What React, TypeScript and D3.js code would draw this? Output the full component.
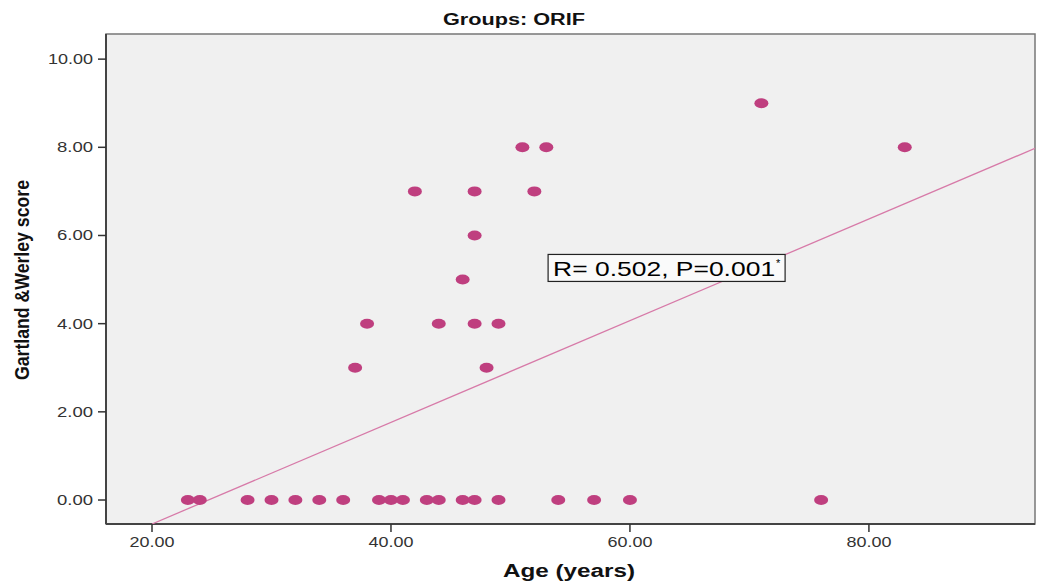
import React from "react";
import * as d3 from "d3";

const ages = [23, 24, 28, 30, 32, 34, 36, 39, 40, 41, 43, 44, 46, 47, 49, 54, 57, 60, 76,
  37, 38, 42, 44, 46, 47, 47, 47, 48, 49, 51, 52, 53, 71, 83];
const scores = [0, 0, 0, 0, 0, 0, 0, 0, 0, 0, 0, 0, 0, 0, 0, 0, 0, 0, 0,
  3, 4, 7, 4, 5, 7, 6, 4, 3, 4, 8, 7, 8, 9, 8];
const xTicks = [20, 40, 60, 80];
const yTicks = [0, 2, 4, 6, 8, 10];
const fitIntercept = -2.85;
const fitSlope = 0.1153;
const title = "Groups: ORIF";
const xLabel = "Age (years)";
const yLabel = "Gartland &Werley score";

export default function App() {
  const W = 1040, H = 586;
  const L = 106, T = 34, R = 1035, B = 524;
  const x = d3.scaleLinear().domain([16.15, 93.9]).range([L, R]);
  const y = d3.scaleLinear().domain([-0.544, 10.57]).range([B, T]);
  const xd = x.domain();
  const line = d3.line<number>().x((d) => x(d)).y((d) => y(fitIntercept + fitSlope * d));
  const x0 = (y.domain()[0] - fitIntercept) / fitSlope;
  const linePts = [Math.max(x0, xd[0]), xd[1]];
  const fmt = (t: number) => t.toFixed(2);
  return (
    <svg width={W} height={H} style={{ position: "absolute", left: 0, top: 0, background: "#fff" }}
      fontFamily="Liberation Sans, Arial, sans-serif">
      <defs>
        <clipPath id="plot"><rect x={L} y={T} width={R - L} height={B - T} /></clipPath>
      </defs>
      <text x={514} y={25} textAnchor="middle" fontSize={16} fontWeight="bold" fill="#111"
        textLength={142} lengthAdjust="spacingAndGlyphs">{title}</text>
      <rect x={L} y={T} width={R - L} height={B - T} fill="#f0f0f0" stroke="#777" strokeWidth={1.5} />
      <line x1={L} y1={T} x2={L} y2={B} stroke="#444" strokeWidth={2} />
      <line x1={L} y1={B} x2={R} y2={B} stroke="#444" strokeWidth={2} />
      {yTicks.map((t) => (
        <g key={"y" + t}>
          <line x1={L - 8} x2={L} y1={y(t)} y2={y(t)} stroke="#333" strokeWidth={1.5} />
          <text x={L - 13} y={y(t) + 5} textAnchor="end" fontSize={14} fill="#333"
            textLength={fmt(t).length * 9} lengthAdjust="spacingAndGlyphs">{fmt(t)}</text>
        </g>
      ))}
      {xTicks.map((t) => (
        <g key={"x" + t}>
          <line x1={x(t)} x2={x(t)} y1={B} y2={B + 8} stroke="#333" strokeWidth={1.5} />
          <text x={x(t)} y={B + 23} textAnchor="middle" fontSize={14} fill="#333"
            textLength={fmt(t).length * 9} lengthAdjust="spacingAndGlyphs">{fmt(t)}</text>
        </g>
      ))}
      <g clipPath="url(#plot)">
        <path d={line(linePts) || ""} stroke="#d77aa8" strokeWidth={1.3} fill="none" />
        {ages.map((a, i) => (
          <ellipse key={i} cx={x(a)} cy={y(scores[i])} rx={7} ry={5} fill="#bf3f7f" />
        ))}
      </g>
      <g transform={`translate(${x(53.15)},${y(5.57)})`}>
        <rect x={0} y={0} width={237} height={27} fill="#fafafa" stroke="#222" strokeWidth={1.2} />
        <text x={5} y={21.5} fontSize={21} fill="#000" textLength={222} lengthAdjust="spacingAndGlyphs">R= 0.502, P=0.001</text>
        <text x={228} y={13} fontSize={11} fill="#000">*</text>
      </g>
      <text x={569} y={577} textAnchor="middle" fontSize={18} fontWeight="bold" fill="#111"
        textLength={132} lengthAdjust="spacingAndGlyphs">{xLabel}</text>
      <text transform={`translate(29,280) rotate(-90)`} textAnchor="middle" fontSize={21} fontWeight="bold"
        fill="#111" textLength={200} lengthAdjust="spacingAndGlyphs">{yLabel}</text>
    </svg>
  );
}
